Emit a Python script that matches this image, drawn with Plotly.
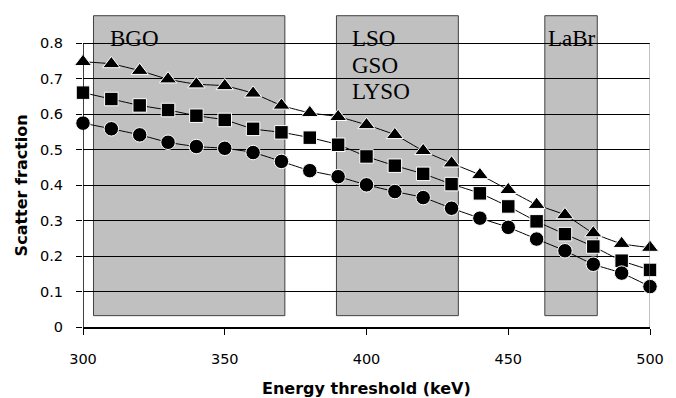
import plotly.graph_objects as go

# ---- data ----
energy_kev = [300, 310, 320, 330, 340, 350, 360, 370, 380, 390, 400,
              410, 420, 430, 440, 450, 460, 470, 480, 490, 500]
sf_triangle = [0.748, 0.742, 0.723, 0.699, 0.685, 0.680, 0.659, 0.625, 0.604, 0.593, 0.570,
               0.542, 0.497, 0.462, 0.429, 0.387, 0.345, 0.316, 0.265, 0.235, 0.224]
sf_square = [0.661, 0.643, 0.625, 0.612, 0.596, 0.584, 0.559, 0.549, 0.534, 0.514, 0.481,
             0.455, 0.432, 0.403, 0.377, 0.340, 0.298, 0.262, 0.227, 0.187, 0.161]
sf_circle = [0.575, 0.559, 0.542, 0.521, 0.509, 0.504, 0.492, 0.467, 0.441, 0.424, 0.401,
             0.382, 0.365, 0.335, 0.307, 0.281, 0.248, 0.215, 0.177, 0.152, 0.114]

# scintillator energy windows (keV)
window_x0 = [303.7, 389.4, 462.9]
window_x1 = [371.2, 432.4, 481.4]
window_y0 = 0.032
window_y1 = 0.878
window_labels = [["BGO"], ["LSO", "GSO", "LYSO"], ["LaBr"]]

x_ticks = [300, 350, 400, 450, 500]
y_ticks = [0, 0.1, 0.2, 0.3, 0.4, 0.5, 0.6, 0.7, 0.8]
y_tick_text = ["0", "0.1", "0.2", "0.3", "0.4", "0.5", "0.6", "0.7", "0.8"]
x_title = "Energy threshold (keV)"
y_title = "Scatter fraction"

fig = go.Figure()

series = [
    (sf_triangle, "triangle-up", 15),
    (sf_square, "square", 13.5),
    (sf_circle, "circle", 14.5),
]
for vals, sym, sz in series:
    fig.add_trace(go.Scatter(
        x=energy_kev, y=vals, mode="lines+markers",
        line=dict(color="black", width=1, shape="spline", smoothing=0.6),
        marker=dict(symbol=sym, size=sz, color="black",
                    line=dict(color="white", width=1)),
        cliponaxis=False, showlegend=False, hoverinfo="skip",
    ))

shapes = []
for x0, x1 in zip(window_x0, window_x1):
    shapes.append(dict(type="rect", xref="x", yref="y", x0=x0, x1=x1,
                       y0=window_y0, y1=window_y1, layer="below",
                       fillcolor="#c0c0c0", line=dict(color="#404040", width=1)))
# y axis line (0 to 0.8) and right border
shapes.append(dict(type="line", xref="x", yref="y", x0=300, x1=300, y0=0, y1=y_ticks[-1],
                   line=dict(color="black", width=1.5), layer="above"))
shapes.append(dict(type="line", xref="x", yref="y", x0=500, x1=500, y0=0, y1=y_ticks[-1],
                   line=dict(color="#808080", width=1), layer="above"))

annotations = []
label_y = [0.8135, 0.738, 0.663]
label_x = [308.8, 394.2, 463.4]
for lx, lines in zip(label_x, window_labels):
    for i, t in enumerate(lines):
        annotations.append(dict(x=lx, y=label_y[i], xref="x", yref="y", text=t,
                                showarrow=False, xanchor="left", yanchor="middle",
                                font=dict(family="Liberation Serif, Times New Roman, serif",
                                          size=23, color="black")))
annotations.append(dict(x=0.5, y=-0.198, xref="paper", yref="paper", text=x_title,
                        showarrow=False, xanchor="center", yanchor="middle",
                        font=dict(family="DejaVu Sans, Arial, sans-serif", size=16,
                                  color="black", weight="bold")))
annotations.append(dict(x=-0.109, y=0.4, xref="paper", yref="y", text=y_title,
                        showarrow=False, xanchor="center", yanchor="middle", textangle=-90,
                        font=dict(family="DejaVu Sans, Arial, sans-serif", size=16,
                                  color="black", weight="bold")))

fig.update_layout(
    width=676, height=398,
    margin=dict(l=83, r=16, t=15, b=71),
    paper_bgcolor="white", plot_bgcolor="white",
    shapes=shapes, annotations=annotations,
    xaxis=dict(range=[300, 500], tickvals=x_ticks, showgrid=False, zeroline=False,
               showline=True, linecolor="black", linewidth=1.5,
               ticks="outside", ticklen=6, tickcolor="black", tickwidth=1,
               ticklabelstandoff=12,
               tickfont=dict(family="DejaVu Sans, Arial, sans-serif", size=14.5, color="black")),
    yaxis=dict(range=[0, 0.88], tickvals=y_ticks, ticktext=y_tick_text,
               showgrid=True, gridcolor="black", gridwidth=1, zeroline=False,
               showline=False, ticks="outside", ticklen=6, tickcolor="black", tickwidth=1,
               ticklabelstandoff=10,
               tickfont=dict(family="DejaVu Sans, Arial, sans-serif", size=14.5, color="black")),
)

fig.write_html("out.html", config={"displayModeBar": False},
               post_script="document.body.style.margin='0';document.body.style.overflow='hidden';")
